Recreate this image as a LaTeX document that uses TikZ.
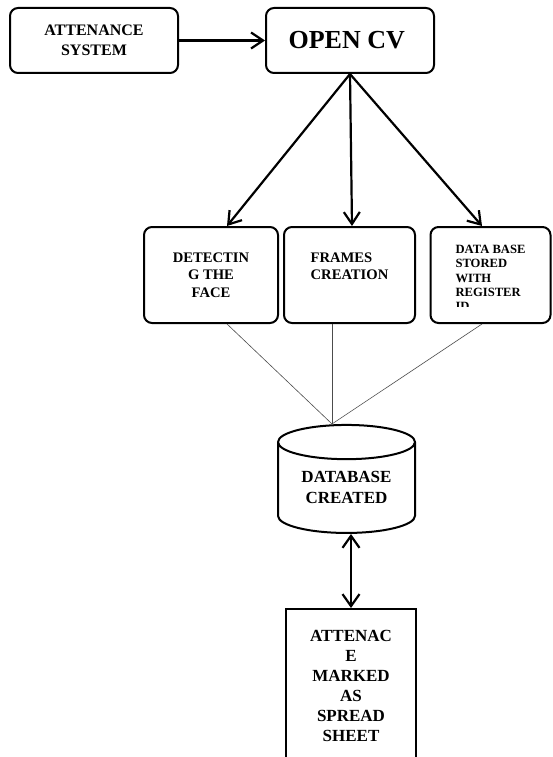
\documentclass[tikz,border=0pt]{standalone}
\usepackage{fontspec}
\setmainfont{Liberation Serif}
\usetikzlibrary{
    arrows.meta,
    positioning,
    calc,
    shapes.geometric
}

\begin{document}
\begin{tikzpicture}[
    x=1pt,
    y=-1pt,
    every node/.style={
        font=\bfseries
    },
    roundbox/.style={
        rectangle,
        rounded corners=8pt,
        draw=black,
        line width=2pt,
        inner sep=0pt,
        align=center
    },
    stepbox/.style={
        roundbox,
        minimum height=96pt
    },
    flowarrow/.style={
        -{Straight Barb[length=12pt,width=16pt]},
        line width=2.2pt,
        draw=black
    },
    dualarrow/.style={
        {Straight Barb[length=12pt,width=17pt]}-{Straight Barb[length=12pt,width=17pt]},
        line width=2.2pt,
        draw=black
    },
    thinline/.style={
        line width=0.6pt,
        draw=black!70
    }
]

\useasboundingbox (0,0) rectangle (553,757);

% ==========================================================
% Top row
% ==========================================================
\node[
    roundbox,
    minimum width=168pt,
    minimum height=65pt,
    font=\fontsize{16pt}{20pt}\selectfont\bfseries
] (attsys) at (94,40.5) {
    ATTENANCE\\SYSTEM
};

\node[
    roundbox,
    minimum width=168pt,
    minimum height=65pt,
    font=\fontsize{26pt}{30pt}\selectfont\bfseries
] (opencv) at (350,40.5) {
    OPEN CV
};

% ==========================================================
% Middle row
% ==========================================================
\node[
    stepbox,
    minimum width=134pt,
    font=\fontsize{14.6pt}{17.5pt}\selectfont\bfseries
] (detect) at (211,275) {
    DETECTIN\\G THE\\FACE
};

\node[
    stepbox,
    minimum width=131pt,
    align=left,
    font=\fontsize{14.6pt}{17.5pt}\selectfont\bfseries
] (frames) at (349.5,275) {
    FRAMES\\CREATION\\\mbox{}
};

\node[
    stepbox,
    minimum width=120pt
] (storedb) at (490.5,275) {};

\begin{scope}
\clip (storedb.north west) rectangle ([yshift=18pt]storedb.south east);
\node[
    inner sep=0pt,
    align=left,
    font=\fontsize{12.6pt}{14.3pt}\selectfont\bfseries
] (storedbtext) at ([yshift=-3pt]storedb.center) {
    DATA BASE\\STORED\\WITH\\REGISTER\\ID
};
\end{scope}

% ==========================================================
% Database and spreadsheet
% ==========================================================
\node[
    cylinder,
    shape border rotate=90,
    aspect=0.38,
    draw=black,
    line width=2pt,
    minimum width=137pt,
    minimum height=108pt,
    inner sep=0pt,
    align=center,
    font=\fontsize{17pt}{21pt}\selectfont\bfseries
] (dbase) at (346.5,488) {
    \phantom{DATABASE}\\\phantom{CREATED}
};

\node[
    inner sep=0pt,
    align=center,
    font=\fontsize{17pt}{21pt}\selectfont\bfseries
] (dbasetext) at (346.5,487) {
    DATABASE\\CREATED
};

\node[
    rectangle,
    draw=black,
    line width=2pt,
    anchor=north,
    minimum width=130pt,
    minimum height=154pt,
    align=center,
    font=\fontsize{17pt}{20pt}\selectfont\bfseries
] (sheet) at (351,608) {
    ATTENAC\\E\\MARKED\\AS\\SPREAD\\SHEET
};

% ==========================================================
% Connectors
% ==========================================================
\draw[flowarrow] (attsys) -- (opencv);

\draw[flowarrow] (opencv.south) -- ([xshift=16pt]detect.north);
\draw[flowarrow] (opencv.south) -- ([xshift=2.5pt]frames.north);
\draw[flowarrow] (opencv.south) -- ([xshift=-8.5pt]storedb.north);

\draw[thinline] ([xshift=16pt]detect.south) -- ([xshift=-14.5pt]dbase.north);
\draw[thinline] ([xshift=-17.5pt]frames.south) -- ([xshift=-14.5pt]dbase.north);
\draw[thinline] ([xshift=-8.5pt]storedb.south) -- ([xshift=-14.5pt]dbase.north);

\draw[dualarrow] (dbase.south -| sheet.north) -- (sheet.north);

\end{tikzpicture}
\end{document}
